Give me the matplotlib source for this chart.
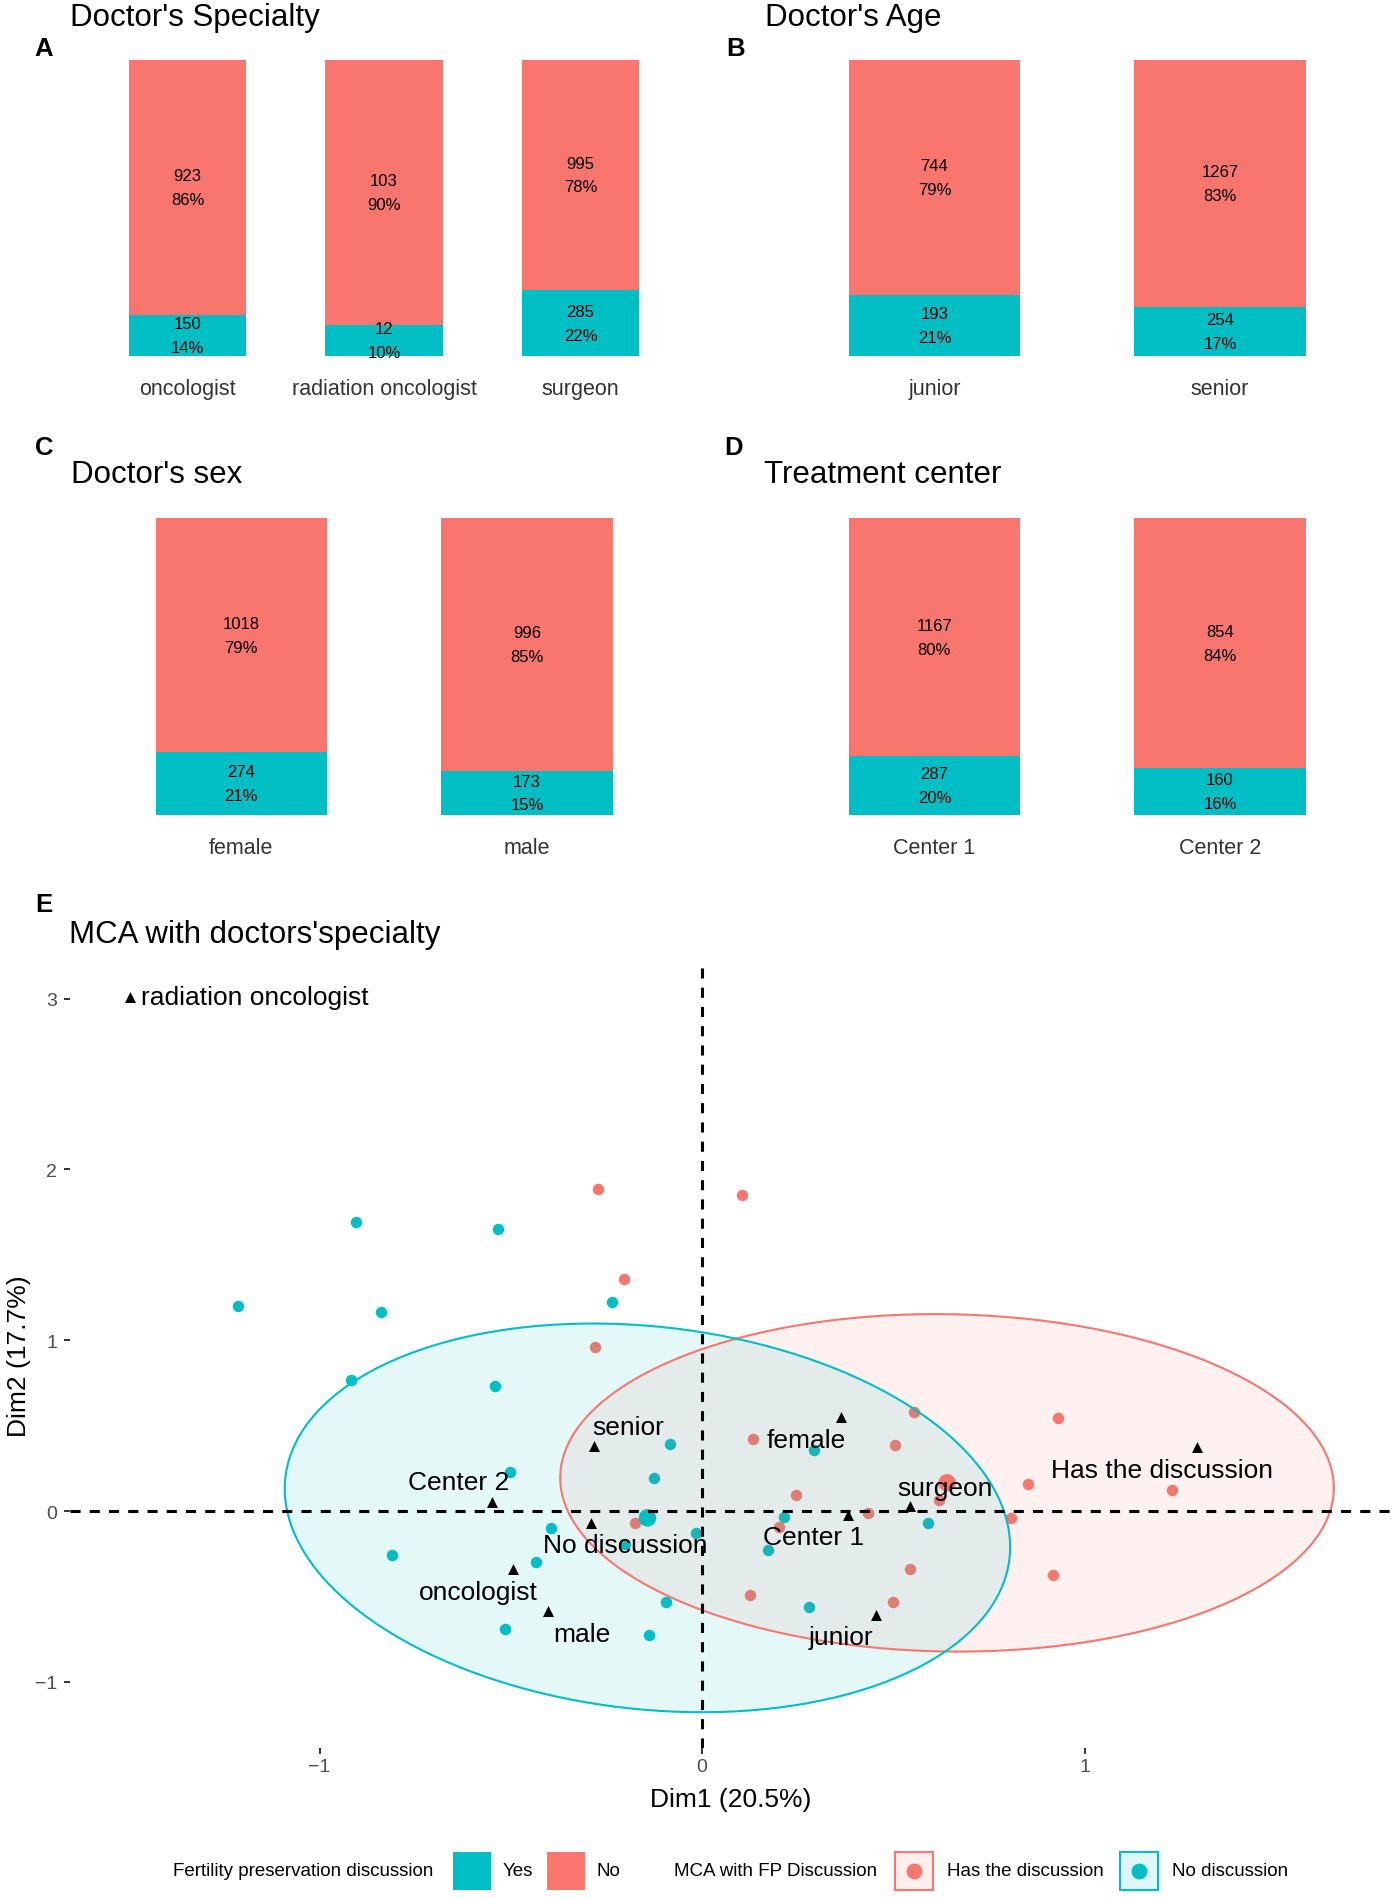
import numpy as np
import matplotlib.pyplot as plt
from matplotlib.patches import Rectangle

plt.rcParams['font.family'] = ['Liberation Sans', 'DejaVu Sans']

RED = '#F8766D'
CYAN = '#00BFC4'
TICK_GREY = '#4D4D4D'

# ---- bar panels: counts of FP discussion (Yes / No) ----
spec_cats = ['oncologist', 'radiation oncologist', 'surgeon']
spec_yes = [150, 12, 285]
spec_no = [923, 103, 995]

age_cats = ['junior', 'senior']
age_yes = [193, 254]
age_no = [744, 1267]

sex_cats = ['female', 'male']
sex_yes = [274, 173]
sex_no = [1018, 996]

center_cats = ['Center 1', 'Center 2']
center_yes = [287, 160]
center_no = [1167, 854]

# ---- MCA: variable categories ----
cat_names = ['radiation oncologist', 'senior', 'female', 'Center 2', 'No discussion',
             'oncologist', 'male', 'Center 1', 'surgeon', 'junior', 'Has the discussion']
cat_x = [-1.495, -0.284, 0.363, -0.548, -0.290, -0.494, -0.404, 0.381, 0.544, 0.454, 1.293]
cat_y = [3.011, 0.382, 0.548, 0.055, -0.072, -0.342, -0.585, -0.023, 0.031, -0.606, 0.373]

# individuals, no discussion group
nodisc_x = [-1.214, -0.906, -0.840, -0.533, -0.235, -0.917, -0.541, -0.502, -0.083, -0.127,
            -0.394, -0.017, -0.202, -0.811, -0.435, -0.095, -0.515, -0.138, 0.292, 0.213,
            0.172, 0.279, 0.590]
nodisc_y = [1.200, 1.692, 1.165, 1.653, 1.226, 0.767, 0.730, 0.231, 0.393, 0.196,
            -0.101, -0.130, -0.192, -0.257, -0.296, -0.530, -0.690, -0.725, 0.358, -0.032,
            -0.231, -0.563, -0.071]
# individuals, has discussion group
hasdisc_x = [-0.272, 0.105, -0.205, -0.280, 0.134, 0.505, 0.553, 0.929, 0.851, 1.227,
             0.244, -0.176, 0.433, 0.808, 0.542, 0.917, 0.124, 0.499, 0.620, 0.202]
hasdisc_y = [1.883, 1.848, 1.356, 0.960, 0.422, 0.387, 0.582, 0.547, 0.157, 0.122,
             0.094, -0.068, -0.009, -0.042, -0.339, -0.374, -0.494, -0.530, 0.065, -0.091]

# group means and concentration ellipses (half extents, correlation)
group_names = ['Has the discussion', 'No discussion']
group_colors = [RED, CYAN]
group_mean_x = [0.640, -0.143]
group_mean_y = [0.165, -0.040]
ell_hx = [1.011, 0.948]
ell_hy = [0.988, 1.138]
ell_rho = [-0.03, -0.15]

# label placement (offset in points, alignment)
label_offsets = {
    'radiation oncologist': (8, -0.5, 'left'),
    'senior': (25, 13.2, 'center'),
    'female': (-24.8, -16.1, 'center'),
    'Center 2': (-24.5, 13.9, 'center'),
    'No discussion': (24.8, -15.6, 'center'),
    'oncologist': (-24.8, -16.0, 'center'),
    'male': (25, -16.3, 'center'),
    'Center 1': (-24.8, -15.6, 'center'),
    'surgeon': (25, 12.6, 'center'),
    'junior': (-24.8, -16.0, 'center'),
    'Has the discussion': (-25.2, -16.3, 'center'),
}

W, H = 1394, 1899
fig = plt.figure(figsize=(W / 100, H / 100), dpi=100)


def px_box(left, top, right, bottom):
    return [left / W, 1 - bottom / H, (right - left) / W, (bottom - top) / H]


def bar_panel(box, cats, yes, no):
    ax = fig.add_axes(px_box(*box))
    x = np.arange(1, len(cats) + 1)
    yes = np.array(yes, dtype=float)
    no = np.array(no, dtype=float)
    tot = yes + no
    p_yes = yes / tot
    p_no = no / tot
    ax.bar(x, p_yes, width=0.6, color=CYAN, linewidth=0)
    ax.bar(x, p_no, width=0.6, bottom=p_yes, color=RED, linewidth=0)
    # two-line labels in the middle of each stacked segment
    for counts, props, mids in [(yes, p_yes, p_yes / 2), (no, p_no, p_yes + p_no / 2)]:
        for xi, cnt, p, mid in zip(x, counts, props, mids):
            ax.annotate(f'{int(cnt)}', (xi, mid), xytext=(0, 8.6), textcoords='offset points',
                        ha='center', va='center', fontsize=12)
            ax.annotate(f'{round(p * 100)}%', (xi, mid), xytext=(0, -8.6),
                        textcoords='offset points', ha='center', va='center', fontsize=12)
    ax.set_xlim(0.4, len(cats) + 0.6)
    ax.set_ylim(-0.05, 1.05)
    ax.set_xticks(x)
    ax.set_xticklabels(cats)
    ax.set_yticks([])
    ax.tick_params(axis='x', length=0, pad=5, labelsize=15.5, labelcolor='#333333')
    for s in ax.spines.values():
        s.set_visible(False)
    return ax


bar_panel((69.6, 45.9, 698.4, 372.1), spec_cats, spec_yes, spec_no)
bar_panel((763, 45.9, 1391.4, 372.1), age_cats, age_yes, age_no)
bar_panel((69.8, 504.5, 698.4, 830.8), sex_cats, sex_yes, sex_no)
bar_panel((763, 504.5, 1391.4, 830.8), center_cats, center_yes, center_no)

# ---- MCA panel ----
ax = fig.add_axes(px_box(70, 962, 1394, 1749))

t = np.linspace(0, 2 * np.pi, 300)
ell_curves = []
for cx, cy, hx, hy, rho in zip(group_mean_x, group_mean_y, ell_hx, ell_hy, ell_rho):
    ex = cx + hx * np.cos(t)
    ey = cy + hy * (rho * np.cos(t) + np.sqrt(1 - rho ** 2) * np.sin(t))
    ell_curves.append((ex, ey))

ax.scatter(nodisc_x, nodisc_y, s=68, color=CYAN, linewidths=0, zorder=2)
ax.scatter(hasdisc_x, hasdisc_y, s=68, color=RED, linewidths=0, zorder=2)

for (ex, ey), col in zip(ell_curves, group_colors):
    ax.fill(ex, ey, facecolor=col, alpha=0.1, edgecolor='none', zorder=3)
    ax.plot(ex, ey, color=col, lw=1.5, zorder=3.1)

ax.scatter(group_mean_x, group_mean_y, s=160, color=group_colors, linewidths=0, zorder=4)

ax.axhline(0, color='black', lw=2.2, linestyle=(0, (3.3, 3.0)), zorder=4.5)
ax.axvline(0, color='black', lw=2.2, linestyle=(0, (3.3, 3.0)), zorder=4.5)

ax.scatter(cat_x, cat_y, marker='^', s=62, color='black', linewidths=0, zorder=5)
for name, x, y in zip(cat_names, cat_x, cat_y):
    dx, dy, ha = label_offsets[name]
    ax.annotate(name, (x, y), xytext=(dx, dy), textcoords='offset points',
                ha=ha, va='center', fontsize=19, zorder=6)

all_x = np.concatenate([cat_x, nodisc_x, hasdisc_x] + [c[0] for c in ell_curves])
all_y = np.concatenate([cat_y, nodisc_y, hasdisc_y] + [c[1] for c in ell_curves])
xr = all_x.max() - all_x.min()
yr = all_y.max() - all_y.min()
ax.set_xlim(all_x.min() - 0.05 * xr, all_x.max() + 0.05 * xr)
ax.set_ylim(all_y.min() - 0.05 * yr, all_y.max() + 0.05 * yr)
ax.set_xticks([-1, 0, 1])
ax.set_yticks([-1, 0, 1, 2, 3])
ax.tick_params(axis='both', length=4.3, width=1.4, color='#333333',
               labelsize=14, labelcolor=TICK_GREY)
ax.tick_params(axis='x', pad=2.7)
ax.tick_params(axis='y', pad=5)
for s in ax.spines.values():
    s.set_visible(False)

# ---- overlay for titles, panel tags and legend (pixel coordinates) ----
lax = fig.add_axes([0, 0, 1, 1])
lax.set_xlim(0, W)
lax.set_ylim(H, 0)
lax.axis('off')

titles = [(70.5, 26, "Doctor's Specialty"), (765, 26, "Doctor's Age"),
          (71, 483, "Doctor's sex"), (764.4, 483, 'Treatment center'),
          (69, 942.5, "MCA with doctors'specialty")]
for x, y, txt in titles:
    lax.text(x, y, txt, fontsize=22.5, ha='left', va='baseline')

tags = [(34.8, 56, 'A'), (726.5, 56, 'B'), (35.5, 455, 'C'), (724.4, 455, 'D'), (35.5, 912, 'E')]
for x, y, txt in tags:
    lax.text(x, y, txt, fontsize=18.5, fontweight='bold', ha='left', va='baseline')

lax.text(731, 1800, 'Dim1 (20.5%)', fontsize=19, ha='center', va='center')
lax.text(19, 1356, 'Dim2 (17.7%)', fontsize=19, ha='center', va='center', rotation=90)

ly = 1872
lax.text(173, ly, 'Fertility preservation discussion', fontsize=13.5, va='center')
lax.add_patch(Rectangle((453, ly - 19), 38, 38, facecolor=CYAN, edgecolor='none'))
lax.text(503, ly, 'Yes', fontsize=13.5, va='center')
lax.add_patch(Rectangle((547, ly - 19), 38, 38, facecolor=RED, edgecolor='none'))
lax.text(597, ly, 'No', fontsize=13.5, va='center')
lax.text(674, ly, 'MCA with FP Discussion', fontsize=13.5, va='center')
for kx, col, txt in [(895, RED, 'Has the discussion'), (1120, CYAN, 'No discussion')]:
    lax.add_patch(Rectangle((kx, ly - 19), 38, 38, facecolor=col, alpha=0.12, edgecolor='none'))
    lax.add_patch(Rectangle((kx, ly - 19), 38, 38, facecolor='none', edgecolor=col, lw=1.5))
    lax.scatter([kx + 19], [ly], s=130, color=col, linewidths=0)
    lax.text(kx + 52, ly, txt, fontsize=13.5, va='center')

fig.savefig('out.png', dpi=100)
